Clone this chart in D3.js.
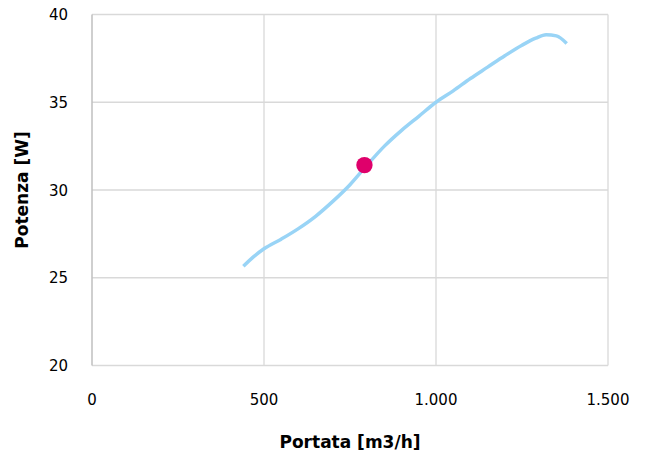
<!DOCTYPE html>
<html><head><meta charset="utf-8">
<script src="https://cdn.jsdelivr.net/npm/d3@7"></script>
<style>body{margin:0;background:#fff}</style>
</head><body><svg id="c" width="645" height="457"></svg>
<script>
const portata = [440,470,500,550,600,650,700,750,790,850,900,950,1000,1050,1100,1150,1200,1250,1290,1320,1350,1380];
const potenza = [25.65,26.2,26.65,27.2,27.8,28.5,29.35,30.3,31.2,32.5,33.4,34.2,35.0,35.65,36.35,37.0,37.65,38.25,38.65,38.85,38.78,38.35];
const pointX = [792];
const pointY = [31.42];
const xTicks = [0,500,1000,1500];
const yTicks = [20,25,30,35,40];
const xTitle = "Portata [m3/h]";
const yTitle = "Potenza [W]";

const svg = d3.select("#c");
const x = d3.scaleLinear().domain([0,1500]).range([92,608]);
const y = d3.scaleLinear().domain([20,40]).range([365.5,14.5]);
const font = "DejaVu Sans";

// gridlines
svg.append("g").selectAll("line").data(yTicks).join("line")
  .attr("x1",x(0)).attr("x2",x(1500)).attr("y1",d=>y(d)).attr("y2",d=>y(d))
  .attr("stroke","#d9d9d9").attr("stroke-width",1.3);
svg.append("g").selectAll("line").data(xTicks.filter(d=>d>0)).join("line")
  .attr("y1",y(20)).attr("y2",y(40)).attr("x1",d=>x(d)).attr("x2",d=>x(d))
  .attr("stroke","#d9d9d9").attr("stroke-width",1.3);
// left axis line
svg.append("line").attr("x1",x(0)).attr("x2",x(0)).attr("y1",y(20)).attr("y2",y(40))
  .attr("stroke","#bfbfbf").attr("stroke-width",1.5);

const fmt = d => d3.format(",")(d).replace(/,/g,".");
// x tick labels
svg.append("g").selectAll("text").data(xTicks).join("text")
  .attr("x",d=>x(d)).attr("y",405).attr("text-anchor","middle")
  .attr("font-family",font).attr("font-size",15).attr("fill","#000").text(fmt);
// y tick labels
svg.append("g").selectAll("text").data(yTicks).join("text")
  .attr("x",68).attr("y",d=>y(d)+5.5).attr("text-anchor","end")
  .attr("font-family",font).attr("font-size",15).attr("fill","#000").text(d=>d);

// titles
svg.append("text").attr("x",350).attr("y",448).attr("text-anchor","middle")
  .attr("font-family",font).attr("font-weight","bold").attr("font-size",17).text(xTitle);
svg.append("text").attr("transform","translate(28,190) rotate(-90)").attr("text-anchor","middle")
  .attr("font-family",font).attr("font-weight","bold").attr("font-size",17).text(yTitle);

// line
const line = d3.line().x(d=>x(d[0])).y(d=>y(d[1])).curve(d3.curveMonotoneX);
svg.append("path").datum(portata.map((p,i)=>[p,potenza[i]]))
  .attr("d",line).attr("fill","none").attr("stroke","#99d4f6").attr("stroke-width",3.5)
  .attr("stroke-linejoin","round");

// point
svg.append("g").selectAll("circle").data(pointX).join("circle")
  .attr("cx",d=>x(d)).attr("cy",(d,i)=>y(pointY[i])).attr("r",8.2).attr("fill","#df006b");
</script></body></html>
